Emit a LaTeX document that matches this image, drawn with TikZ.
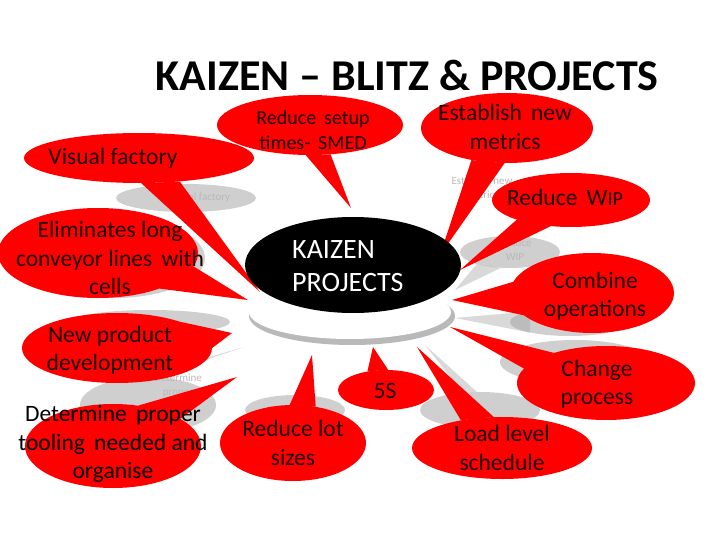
\documentclass[tikz,border=0pt]{standalone}
\usepackage{fontspec}
\setmainfont{Carlito}
\usetikzlibrary{shapes.geometric}
\definecolor{cred}{RGB}{255,0,0}
\definecolor{shade}{RGB}{160,160,160}
\begin{document}
\begin{tikzpicture}[x=1pt,y=-1pt,
  bub/.style={ellipse, fill=cred, inner sep=0pt},
  shd/.style={ellipse, fill=shade, opacity=0.5, inner sep=0pt},
  shdptr/.style={fill=shade, opacity=0.4},
  ptr/.style={fill=cred},
  txt/.style={font=\fontsize{23.5}{28.5}\selectfont, align=center, inner sep=0pt, text=black!88!red},
  smalltxt/.style={font=\fontsize{20}{25}\selectfont, align=center, inner sep=0pt, text=black!88!red},
  fainttxt/.style={font=\fontsize{11}{14}\selectfont, align=center, inner sep=0pt, text=gray!55}]
\useasboundingbox[fill=white] (0,0) rectangle (720,540);

% title
\node[font=\bfseries\fontsize{44}{50}\selectfont, anchor=base, inner sep=0pt] (title) at (407,91) {KAIZEN -- BLITZ \& PROJECTS};

% faded background copies
\node[shd, minimum width=140pt, minimum height=28pt] (s1) at (186,198) {};
\node[fainttxt] (s1t) at (200,198) {Visual factory};
\node[shd, minimum width=180pt, minimum height=80pt] (s2) at (115,258) {};
\node[shd, minimum width=160pt, minimum height=24pt] (s3) at (150,322) {};
\node[shd, minimum width=136pt, minimum height=56pt] (s4) at (148,405) {};
\node[fainttxt] (s4t) at (178,386) {Determine\\proper};
\node[shd, minimum width=100pt, minimum height=30pt] (s5) at (295,410) {};
\node[shd, minimum width=120pt, minimum height=36pt] (s6) at (480,410) {};
\node[shd, minimum width=150pt, minimum height=44pt] (s7) at (575,362) {};
\node[shd, minimum width=120pt, minimum height=28pt] (s8) at (570,322) {};
\node[shd, minimum width=100pt, minimum height=32pt] (s9) at (510,252) {};
\node[fainttxt] (s9t) at (515,250) {Reduce\\WIP};
\node[fainttxt] (s10t) at (482,188) {Establish new\\metrics};
\coordinate (g1) at (244,347);
\fill[shdptr] (g1) -- (s4.75) -- (s4.105) -- cycle;
\coordinate (g2) at (455,318);
\fill[shdptr] (g2) -- (s8.165) -- (s8.195) -- cycle;
\coordinate (g3) at (425,345);
\fill[shdptr] (g3) -- (s6.100) -- (s6.135) -- cycle;
\coordinate (g4) at (455,290);
\fill[shdptr] (g4) -- (s9.200) -- (s9.240) -- cycle;
\coordinate (g5) at (250,284);
\fill[shdptr] (g5) -- (s1.285) -- (s1.320) -- cycle;

% red callouts
\node[bub, minimum width=186pt, minimum height=60pt] (rs) at (310,125) {};
\coordinate (rs-tip) at (351,208);
\fill[ptr] (rs.262) -- (rs-tip) -- (rs.305) -- cycle;

\node[bub, minimum width=230pt, minimum height=50pt] (vf) at (139,158) {};
\coordinate (vf-tip) at (260,292);
\fill[ptr] (vf.275) -- (vf-tip) -- (vf.330) -- cycle;

\node[bub, minimum width=200pt, minimum height=90pt] (el) at (98,253) {};
\coordinate (el-tip) at (248,300);
\fill[ptr] (el.330) -- (el-tip) -- (el.352) -- cycle;

\node[bub, minimum width=172pt, minimum height=70pt] (es) at (507,128) {};
\coordinate (es-tip) at (440,255);
\fill[ptr] (es.222) -- (es-tip) -- (es.266) -- cycle;

\node[bub, minimum width=158pt, minimum height=54pt] (wip) at (571,200) {};
\coordinate (wip-tip) at (460,270);
\fill[ptr] (wip.200) -- (wip-tip) -- (wip.232) -- cycle;

\node[bub, minimum width=164pt, minimum height=80pt] (co) at (592,293) {};
\coordinate (co-tip) at (452,300);
\fill[ptr] (co.172) -- (co-tip) -- (co.198) -- cycle;

\node[bub, minimum width=178pt, minimum height=74pt] (ch) at (606,383) {};
\coordinate (ch-tip) at (450,327);
\fill[ptr] (ch.150) -- (ch-tip) -- (ch.170) -- cycle;

\node[bub, minimum width=180pt, minimum height=62pt] (ll) at (502,448) {};
\coordinate (ll-tip) at (417,347);
\fill[ptr] (ll.105) -- (ll-tip) -- (ll.146) -- cycle;

\node[bub, minimum width=96pt, minimum height=40pt] (fs) at (386,390) {};
\coordinate (fs-tip) at (373,347);
\fill[ptr] (fs.84) -- (fs-tip) -- (fs.135) -- cycle;

\node[bub, minimum width=146pt, minimum height=76pt] (rl) at (293,443) {};
\coordinate (rl-tip) at (312,355);
\fill[ptr] (rl.58) -- (rl-tip) -- (rl.95) -- cycle;

\node[bub, minimum width=190pt, minimum height=70pt] (np) at (117,348) {};
\coordinate (np-tip) at (232,333);
\fill[ptr] (np.0) -- (np-tip) -- (np.22) -- cycle;

\node[bub, minimum width=176pt, minimum height=84pt] (dt) at (113,446) {};
\coordinate (dt-tip) at (237,377);
\fill[ptr] (dt.22) -- (dt-tip) -- (dt.58) -- cycle;

% central
\node[ellipse, fill=gray!55, minimum width=206pt, minimum height=58pt, inner sep=0pt] (disksh) at (352,316) {};
\node[ellipse, fill=white, minimum width=202pt, minimum height=54pt, inner sep=0pt] (disk) at (350,312) {};
\node[ellipse, fill=black, minimum width=216pt, minimum height=96pt, inner sep=0pt] (kz) at (353,265) {};
\node[font=\fontsize{28}{33}\selectfont, text=white, align=left, anchor=west, inner sep=0pt] (kzt) at (292,266) {KAIZEN\\PROJECTS};

% texts
\node[smalltxt] (rs-t) at (313,130) {Reduce\, setup\\times-\, SMED};
\node[txt] (vf-t) at (113,158) {Visual factory};
\node[txt] (el-t) at (110,258) {Eliminates long\\conveyor lines\, with\\cells};
\node[txt] (es-t) at (505,127) {Establish\, new\\metrics};
\node[txt] (wip-t) at (565,197) {Reduce\, W{\fontsize{20}{24}\selectfont IP}};
\node[txt] (co-t) at (595,296) {Combine\\operations};
\node[txt] (ch-t) at (597,384) {Change\\process};
\node[txt] (ll-t) at (502,448) {Load level\\schedule};
\node[txt] (fs-t) at (385,391) {5S};
\node[txt] (rl-t) at (293,443) {Reduce lot\\sizes};
\node[txt] (np-t) at (110,350) {New product\\development};
\node[txt, text=black] (dt-t) at (113,444) {Determine\, proper\\tooling\, needed and\\organise};
\end{tikzpicture}
\end{document}
